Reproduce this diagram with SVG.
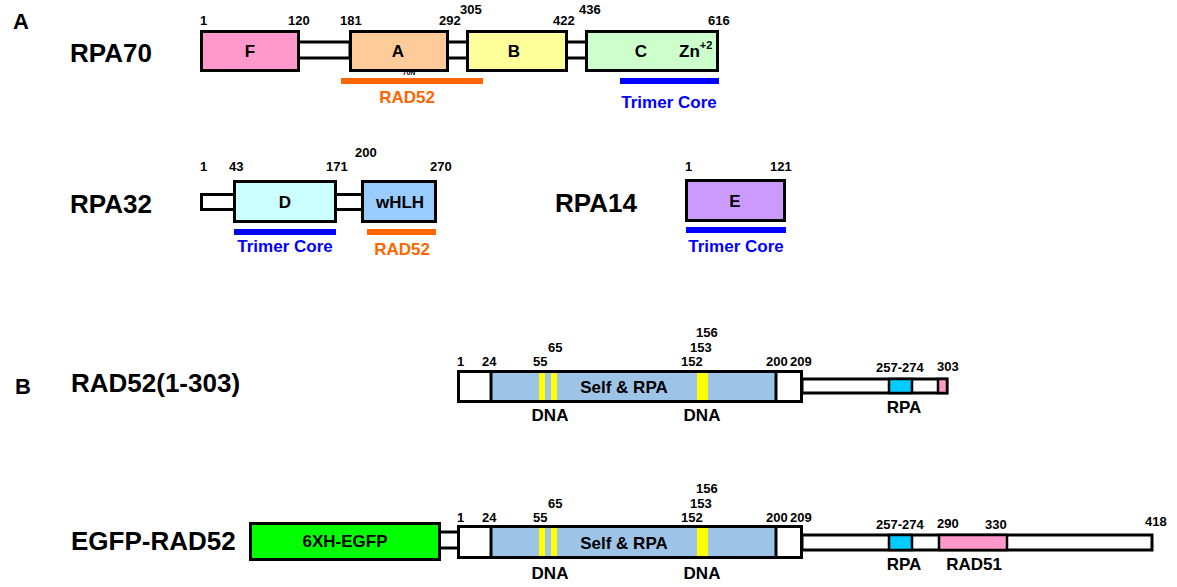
<svg xmlns="http://www.w3.org/2000/svg" width="1177" height="587" viewBox="0 0 1177 587">
<style>
text{font-family:"Liberation Sans",Arial,sans-serif;font-weight:bold;fill:#000}
.big{font-size:26px}
.sec{font-size:22px}
.num{font-size:13px}
.lab{font-size:17px}
.mid{text-anchor:middle}
.box{stroke:#000;stroke-width:3}
.thin{stroke:#000;stroke-width:2.5}
.or{fill:#FF6600}
.bl{fill:#0000FF}
</style>
<rect width="1177" height="587" fill="#fff"/>
<text class="sec" x="13" y="29">A</text>
<text class="sec" x="15" y="394">B</text>

<g id="connectors">
<rect class="box" x="298" y="42" width="52" height="16" fill="#fff"/>
<rect class="box" x="447" y="42" width="21" height="16" fill="#fff"/>
<rect class="box" x="566" y="42" width="21" height="16" fill="#fff"/>
<rect class="box" x="201.5" y="194.5" width="34" height="15" fill="#fff"/>
<rect class="box" x="335" y="194.5" width="29" height="15" fill="#fff"/>
<rect class="box" x="439" y="532" width="20" height="16" fill="#fff"/>
</g>

<g id="rpa70">
<text class="big" x="70" y="62">RPA70</text>
<text class="num" x="200" y="25">1</text>
<text class="num" x="288" y="25">120</text>
<text class="num" x="340" y="25">181</text>
<text class="num" x="439" y="25">292</text>
<text class="num" x="460" y="14">305</text>
<text class="num" x="553" y="25">422</text>
<text class="num" x="579" y="14">436</text>
<text class="num" x="708" y="25">616</text>
<g id="rpa70-F"><rect class="box" x="201.5" y="31.5" width="97" height="39" fill="#FF99CC"/><text class="lab mid" x="250" y="57">F</text></g>
<g id="rpa70-A"><rect class="box" x="350.5" y="31.5" width="97" height="39" fill="#FFCC99"/><text class="lab mid" x="398" y="57">A</text><text x="409" y="75" font-size="7" text-anchor="middle">70N</text></g>
<g id="rpa70-B"><rect class="box" x="467.5" y="31.5" width="99" height="39" fill="#FFFF99"/><text class="lab mid" x="514" y="57">B</text></g>
<g id="rpa70-C"><rect class="box" x="586.5" y="31.5" width="131" height="39" fill="#CCFFCC"/><text class="lab mid" x="641" y="57">C</text><text class="lab" x="679" y="57">Zn<tspan font-size="11" dy="-8">+2</tspan></text></g>
<g id="rpa70-rad52"><rect class="or" x="341" y="78" width="142" height="6"/><text class="lab mid or" x="407" y="103">RAD52</text></g>
<g id="rpa70-core"><rect class="bl" x="620" y="78" width="99" height="6"/><text class="lab mid bl" x="669" y="108">Trimer Core</text></g>
</g>

<g id="rpa32">
<text class="big" x="70" y="213">RPA32</text>
<text class="num" x="200" y="171">1</text>
<text class="num" x="229" y="171">43</text>
<text class="num" x="326" y="171">171</text>
<text class="num" x="355" y="157">200</text>
<text class="num" x="430" y="171">270</text>
<g id="rpa32-D"><rect class="box" x="234.5" y="181.5" width="101" height="40" fill="#CCFFFF"/><text class="lab mid" x="285" y="208">D</text></g>
<g id="rpa32-wHLH"><rect class="box" x="362.5" y="181.5" width="73" height="40" fill="#99CCFF"/><text class="lab mid" x="400" y="208">wHLH</text></g>
<g id="rpa32-core"><rect class="bl" x="234" y="229" width="102" height="6"/><text class="lab mid bl" x="285" y="252">Trimer Core</text></g>
<g id="rpa32-rad52"><rect class="or" x="367" y="229" width="69" height="6"/><text class="lab mid or" x="402" y="255">RAD52</text></g>
</g>

<g id="rpa14">
<text class="big" x="555" y="212">RPA14</text>
<text class="num" x="685" y="171">1</text>
<text class="num" x="770" y="171">121</text>
<g id="rpa14-E"><rect class="box" x="686.5" y="180.5" width="98" height="40" fill="#CC99FF"/><text class="lab mid" x="735" y="207">E</text></g>
<g id="rpa14-core"><rect class="bl" x="686" y="227" width="100" height="6"/><text class="lab mid bl" x="736" y="252">Trimer Core</text></g>
</g>

<g id="rad52-1-303">
<text class="big" x="71" y="392">RAD52(1-303)</text>
<rect class="box" x="802" y="379" width="145" height="14" fill="#fff"/>
<rect class="thin" x="889" y="379" width="23" height="14" fill="#00CCFF"/>
<rect class="thin" x="938" y="379" width="9" height="14" fill="#FF99CC"/>
<rect class="box" x="458.5" y="371.5" width="343" height="30" fill="#fff"/>
<rect class="box" x="491" y="371.5" width="285" height="30" fill="#9DC3E6"/>
<rect x="539" y="373" width="6" height="27" fill="#FFFF00"/>
<rect x="551" y="373" width="6" height="27" fill="#FFFF00"/>
<rect x="697" y="373" width="11" height="27" fill="#FFFF00"/>
<rect class="box" x="458.5" y="371.5" width="343" height="30" fill="none"/>
<text class="lab mid" x="624" y="393">Self &amp; RPA</text>
<text class="num" x="457" y="366">1</text>
<text class="num" x="482" y="366">24</text>
<text class="num" x="533" y="366">55</text>
<text class="num" x="548" y="352">65</text>
<text class="num" x="681" y="366">152</text>
<text class="num" x="690" y="352">153</text>
<text class="num" x="696" y="337">156</text>
<text class="num" x="766" y="366">200</text>
<text class="num" x="790" y="366">209</text>
<text class="num" x="876" y="372">257-274</text>
<text class="num" x="937" y="371">303</text>
<text class="lab mid" x="550" y="421">DNA</text>
<text class="lab mid" x="702" y="421">DNA</text>
<text class="lab mid" x="904" y="413">RPA</text>
</g>

<g id="egfp-rad52">
<text class="big" x="71" y="550">EGFP-RAD52</text>
<g id="egfp"><rect class="box" x="250.5" y="523.5" width="189" height="36" fill="#00FF00"/><text class="lab mid" x="345" y="547">6XH-EGFP</text></g>
<rect class="box" x="802" y="535" width="350" height="15" fill="#fff"/>
<rect class="thin" x="889" y="535" width="23" height="15" fill="#00CCFF"/>
<rect class="thin" x="939" y="535" width="68" height="15" fill="#FF99CC"/>
<rect class="box" x="458.5" y="526.5" width="343" height="31" fill="#fff"/>
<rect class="box" x="491" y="526.5" width="285" height="31" fill="#9DC3E6"/>
<rect x="539" y="528" width="6" height="28" fill="#FFFF00"/>
<rect x="551" y="528" width="6" height="28" fill="#FFFF00"/>
<rect x="697" y="528" width="11" height="28" fill="#FFFF00"/>
<rect class="box" x="458.5" y="526.5" width="343" height="31" fill="none"/>
<text class="lab mid" x="624" y="549">Self &amp; RPA</text>
<text class="num" x="457" y="522">1</text>
<text class="num" x="482" y="522">24</text>
<text class="num" x="533" y="522">55</text>
<text class="num" x="548" y="508">65</text>
<text class="num" x="681" y="522">152</text>
<text class="num" x="690" y="508">153</text>
<text class="num" x="696" y="493">156</text>
<text class="num" x="766" y="522">200</text>
<text class="num" x="790" y="522">209</text>
<text class="num" x="876" y="529">257-274</text>
<text class="num" x="937" y="528">290</text>
<text class="num" x="985" y="529">330</text>
<text class="num" x="1145" y="526">418</text>
<text class="lab mid" x="550" y="579">DNA</text>
<text class="lab mid" x="702" y="579">DNA</text>
<text class="lab mid" x="904" y="570">RPA</text>
<text class="lab mid" x="974" y="570">RAD51</text>
</g>
</svg>
